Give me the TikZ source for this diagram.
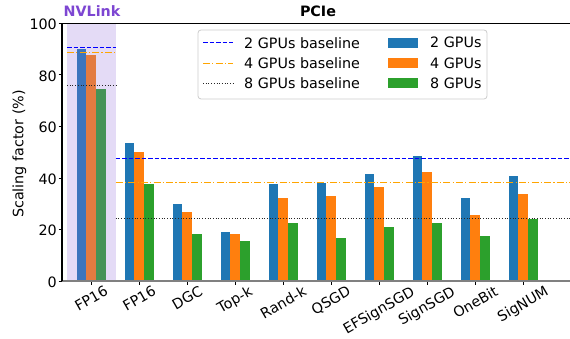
\documentclass[tikz,border=0pt]{standalone}
\usepackage{fontspec}
\setmainfont{DejaVu Sans}
\usepackage{graphicx}
\definecolor{tabblue}{HTML}{1F77B4}
\definecolor{taborange}{HTML}{FF7F0E}
\definecolor{tabgreen}{HTML}{2CA02C}
\definecolor{shadepurple}{RGB}{147,112,219}
\definecolor{nvpurple}{RGB}{125,70,210}
\definecolor{baseorange}{HTML}{FFA500}
\tikzset{
  lbl/.style={font=\fontsize{14.3}{17}\selectfont, inner sep=0pt},
  ttl/.style={font=\fontsize{14.3}{17}\selectfont\bfseries, inner sep=0pt, anchor=base},
  blline/.style={blue, line width=1.2pt, dash pattern=on 4.5pt off 2pt},
  orline/.style={baseorange, line width=1.2pt, dash pattern=on 7pt off 2.2pt on 1.2pt off 2.2pt},
  bkline/.style={black!85, line width=1pt, dash pattern=on 1pt off 1.7pt},
  legbox/.style={draw=black!20, fill=white, fill opacity=0.8, rounded corners=3pt, line width=0.8pt},
}
\begin{document}
\begin{tikzpicture}[x=1pt,y=1pt]
\useasboundingbox (0,0) rectangle (570,339);
\begin{scope}[shift={(0,58)}, y=2.577pt]
  % bars
  \foreach \i/\b/\o/\g/\nm in {0/90.0/87.7/74.5/FP16, 1/53.6/50.1/37.6/FP16, 2/29.9/26.8/18.2/DGC, 3/19.0/18.2/15.5/Top-k, 4/37.6/32.2/22.5/Rand-k, 5/38.0/33.0/16.7/QSGD, 6/41.5/36.5/21.0/EFSignSGD, 7/48.5/42.3/22.5/SignSGD, 8/32.2/25.6/17.5/OneBit, 9/40.7/33.8/24.1/SigNUM}{
    \pgfmathsetmacro\c{91.2+48*\i}
    \fill[tabblue] (\c-14.5,0) rectangle (\c-4.85,\b);
    \fill[taborange] (\c-4.85,0) rectangle (\c+4.85,\o);
    \fill[tabgreen] (\c+4.85,0) rectangle (\c+14.5,\g);
    \draw[line width=0.8pt] (\c,0) -- (\c,-1.36);
    \node[lbl, anchor=north] (xl\i) at (\c,-1.55) {\rotatebox{30}{\nm}};
  }
  % NVLink shade
  \fill[shadepurple, opacity=0.25] (67,0) rectangle (115.7,100);
  % baselines
  \draw[blline] (67,90.5) -- (115.7,90.5);
  \draw[orline] (67,88.7) -- (115.7,88.7);
  \draw[bkline] (67,75.7) -- (115.7,75.7);
  \draw[blline] (115.7,47.6) -- (570,47.6);
  \draw[orline] (115.7,38.3) -- (570,38.3);
  \draw[bkline] (115.7,24.1) -- (570,24.1);
  % axes
  \draw[gray, line width=2pt] (62,0) -- (570,0);
  \draw[line width=1.2pt] (62,0) -- (62,100) -- (570,100);
  \foreach \v in {0,20,40,60,80,100}{
    \draw[line width=0.8pt] (58.5,\v) -- (62,\v);
    \node[lbl, anchor=east] (yt\v) at (57,\v-0.4) {\v};
  }
\end{scope}
% axis label and titles
\node[lbl, rotate=90] (ylab) at (19.5,185) {Scaling factor (\%)};
\node[ttl, text=nvpurple] (nvt) at (92,322.3) {NVLink};
\node[ttl] (pct) at (318,322.3) {PCIe};
% legend
\draw[legbox] (198,309) rectangle (487,240);
\draw[blline] (203,296.3) -- (233,296.3);
\draw[orline] (203,275.7) -- (233,275.7);
\draw[bkline] (203,255.7) -- (233,255.7);
\node[lbl, anchor=west] (l1) at (244,296.3) {2 GPUs baseline};
\node[lbl, anchor=west] (l2) at (244,275.7) {4 GPUs baseline};
\node[lbl, anchor=west] (l3) at (244,255.7) {8 GPUs baseline};
\fill[tabblue] (388,291.3) rectangle (418,301.3);
\fill[taborange] (388,270.7) rectangle (418,280.7);
\fill[tabgreen] (388,250.7) rectangle (418,260.7);
\node[lbl, anchor=west] (l4) at (430,296.3) {2 GPUs};
\node[lbl, anchor=west] (l5) at (430,275.7) {4 GPUs};
\node[lbl, anchor=west] (l6) at (430,255.7) {8 GPUs};
\end{tikzpicture}
\end{document}
